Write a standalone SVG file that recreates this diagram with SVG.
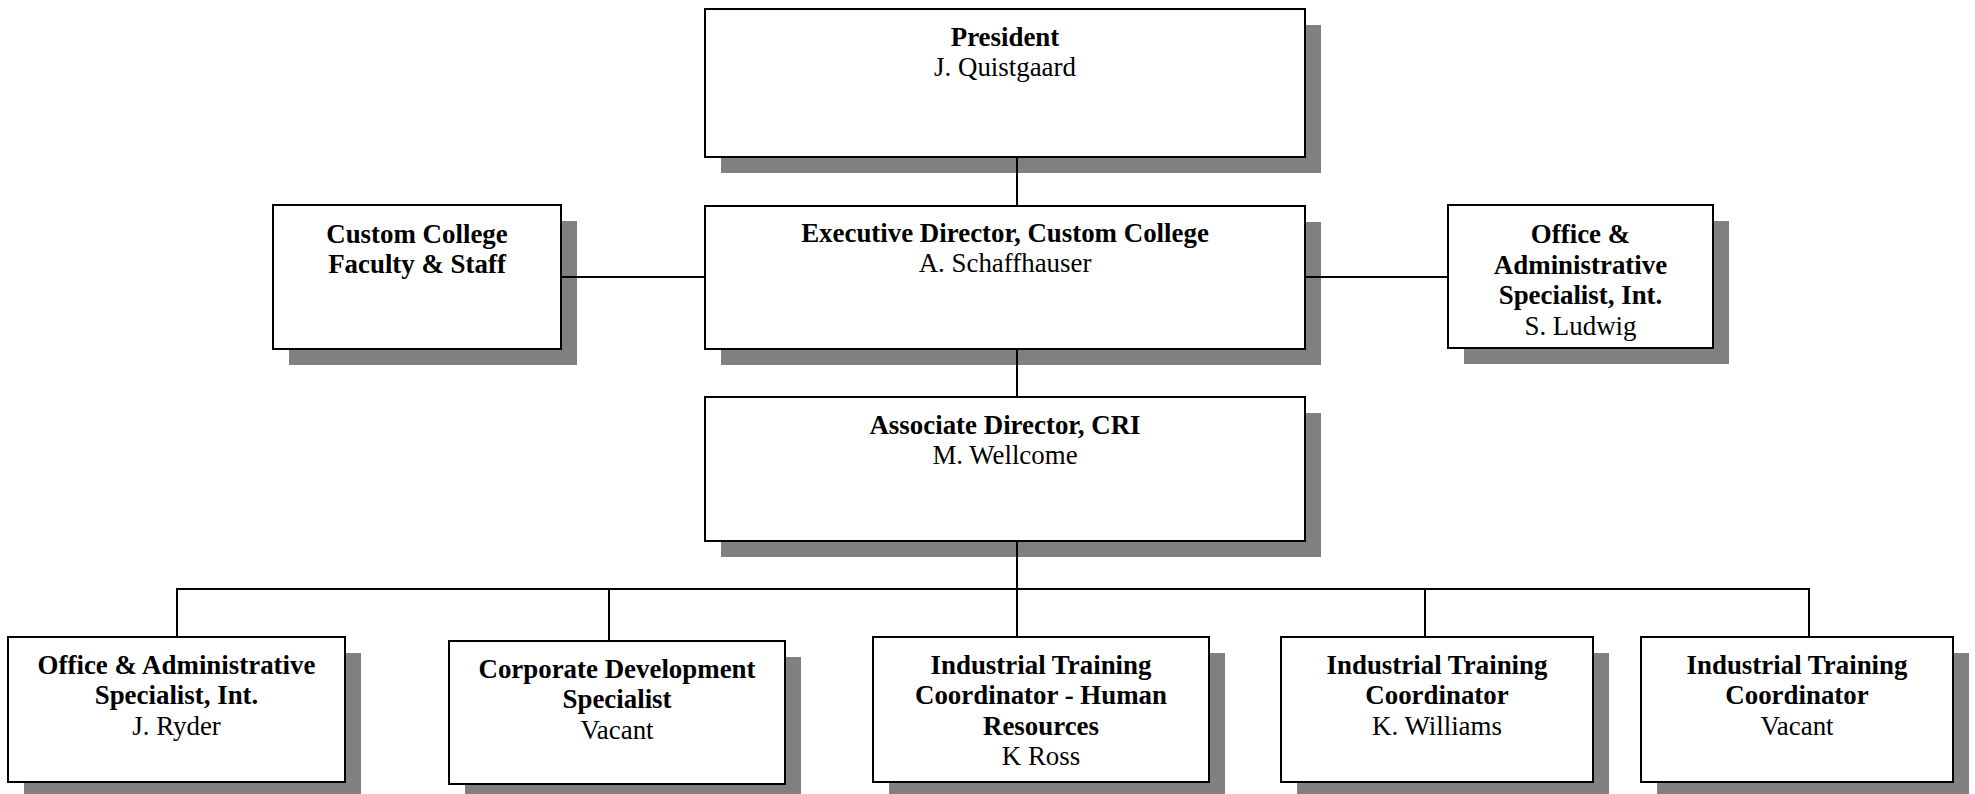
<svg xmlns="http://www.w3.org/2000/svg" width="1975" height="794" viewBox="0 0 1975 794">
<style>
.sh{fill:#808080;stroke:none}
.bx{fill:#fff;stroke:#000;stroke-width:2}
.t{font-family:"Liberation Serif","Times New Roman",serif;font-size:26.9px;text-anchor:middle;fill:#000}
.b{font-weight:bold}
.ln{stroke:#000;stroke-width:2;fill:none}
</style>
<rect width="1975" height="794" fill="#fff"/>
<g id="president">
<rect class="sh" x="721" y="25" width="600" height="148"/>
<rect class="bx" x="705" y="9" width="600" height="148"/>
<text class="t b" x="1005" y="45.5">President</text>
<text class="t" x="1005" y="76">J. Quistgaard</text>
</g>
<g id="exec-director">
<rect class="sh" x="721" y="222" width="600" height="143"/>
<rect class="bx" x="705" y="206" width="600" height="143"/>
<text class="t b" x="1005" y="241.5">Executive Director, Custom College</text>
<text class="t" x="1005" y="272">A. Schaffhauser</text>
</g>
<g id="faculty-staff">
<rect class="sh" x="289" y="221" width="288" height="144"/>
<rect class="bx" x="273" y="205" width="288" height="144"/>
<text class="t b" x="417" y="242.5">Custom College</text>
<text class="t b" x="417" y="273">Faculty &amp; Staff</text>
</g>
<g id="office-ludwig">
<rect class="sh" x="1464" y="221" width="265" height="143"/>
<rect class="bx" x="1448" y="205" width="265" height="143"/>
<text class="t b" x="1580.5" y="243">Office &amp;</text>
<text class="t b" x="1580.5" y="273.5">Administrative</text>
<text class="t b" x="1580.5" y="304">Specialist, Int.</text>
<text class="t" x="1580.5" y="334.5">S. Ludwig</text>
</g>
<g id="assoc-director">
<rect class="sh" x="721" y="413" width="600" height="144"/>
<rect class="bx" x="705" y="397" width="600" height="144"/>
<text class="t b" x="1005" y="433.5">Associate Director, CRI</text>
<text class="t" x="1005" y="464">M. Wellcome</text>
</g>
<g id="office-ryder">
<rect class="sh" x="24" y="653" width="337" height="145"/>
<rect class="bx" x="8" y="637" width="337" height="145"/>
<text class="t b" x="176.5" y="673.5">Office &amp; Administrative</text>
<text class="t b" x="176.5" y="704">Specialist, Int.</text>
<text class="t" x="176.5" y="734.5">J. Ryder</text>
</g>
<g id="corp-dev">
<rect class="sh" x="465" y="657" width="336" height="143"/>
<rect class="bx" x="449" y="641" width="336" height="143"/>
<text class="t b" x="617" y="677.5">Corporate Development</text>
<text class="t b" x="617" y="708">Specialist</text>
<text class="t" x="617" y="738.5">Vacant</text>
</g>
<g id="itc-hr">
<rect class="sh" x="889" y="653" width="336" height="145"/>
<rect class="bx" x="873" y="637" width="336" height="145"/>
<text class="t b" x="1041" y="673.5">Industrial Training</text>
<text class="t b" x="1041" y="704">Coordinator - Human</text>
<text class="t b" x="1041" y="734.5">Resources</text>
<text class="t" x="1041" y="765">K Ross</text>
</g>
<g id="itc-williams">
<rect class="sh" x="1297" y="653" width="312" height="145"/>
<rect class="bx" x="1281" y="637" width="312" height="145"/>
<text class="t b" x="1437" y="673.5">Industrial Training</text>
<text class="t b" x="1437" y="704">Coordinator</text>
<text class="t" x="1437" y="734.5">K. Williams</text>
</g>
<g id="itc-vacant">
<rect class="sh" x="1657" y="653" width="312" height="145"/>
<rect class="bx" x="1641" y="637" width="312" height="145"/>
<text class="t b" x="1797" y="673.5">Industrial Training</text>
<text class="t b" x="1797" y="704">Coordinator</text>
<text class="t" x="1797" y="734.5">Vacant</text>
</g>
<g id="connectors">
<line class="ln" x1="1017" y1="157" x2="1017" y2="206"/>
<line class="ln" x1="561" y1="277" x2="705" y2="277"/>
<line class="ln" x1="1305" y1="277" x2="1448" y2="277"/>
<line class="ln" x1="1017" y1="349" x2="1017" y2="397"/>
<line class="ln" x1="1017" y1="541" x2="1017" y2="637"/>
<polyline class="ln" points="177,637 177,589 1809,589 1809,637"/>
<line class="ln" x1="609" y1="589" x2="609" y2="641"/>
<line class="ln" x1="1425" y1="589" x2="1425" y2="637"/>
</g>
</svg>
